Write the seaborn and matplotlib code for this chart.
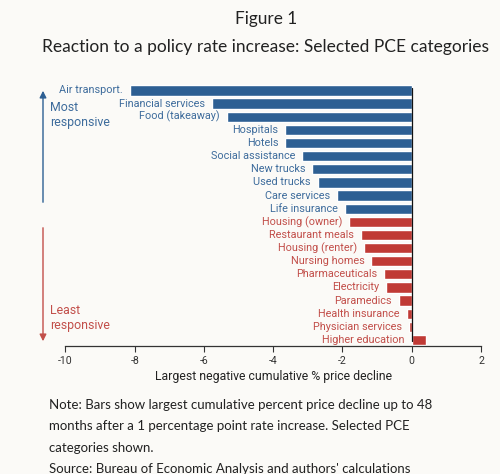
import matplotlib
matplotlib.use("Agg")
import matplotlib.pyplot as plt
import seaborn as sns
import pandas as pd

categories = ["Air transport.", "Financial services", "Food (takeaway)", "Hospitals", "Hotels",
              "Social assistance", "New trucks", "Used trucks", "Care services", "Life insurance",
              "Housing (owner)", "Restaurant meals", "Housing (renter)", "Nursing homes",
              "Pharmaceuticals", "Electricity", "Paramedics", "Health insurance",
              "Physician services", "Higher education"]
values = [-8.15, -5.78, -5.34, -3.65, -3.65, -3.17, -2.88, -2.71, -2.17, -1.93,
          -1.81, -1.48, -1.39, -1.17, -0.81, -0.73, -0.37, -0.15, -0.08, 0.40]
groups = ["Most"] * 10 + ["Least"] * 10
x_ticks = [-10, -8, -6, -4, -2, 0, 2]

BG = "#FBFAF7"
BLUE = "#2D5F93"
RED = "#C03A35"
BLUE_TXT = "#3E6C9C"
RED_TXT = "#C24F4A"

df = pd.DataFrame({"category": categories, "value": values, "group": groups})

sns.set_theme(style="white")
plt.rcParams["font.family"] = ["Roboto", "DejaVu Sans"]

fig = plt.figure(figsize=(5, 4.74), dpi=100, facecolor=BG)
ax = fig.add_axes([0.131, 0.270, 0.831, 0.553])
ax.set_facecolor(BG)

sns.barplot(data=df, y="category", x="value", hue="group", orient="h",
            palette={"Most": BLUE, "Least": RED}, dodge=False, width=0.78,
            legend=False, ax=ax, saturation=1)

ax.set_xlim(-10, 2)
ax.set_ylim(19.46, -0.5)
ax.set_xticks(x_ticks)
ax.set_xticklabels([str(t) for t in x_ticks], fontsize=7.6, color="#333333")
ax.set_yticks([])
ax.set_ylabel("")
ax.set_xlabel("Largest negative cumulative % price decline", fontsize=8.8, color="#222222", labelpad=3)
ax.tick_params(axis="x", length=4, width=0.8, color="#333333", pad=3, bottom=True)
for s in ["left", "right", "top"]:
    ax.spines[s].set_visible(False)
ax.spines["bottom"].set_color("#333333")
ax.spines["bottom"].set_linewidth(0.9)
ax.axvline(0, ymin=0.02, ymax=0.985, color="#111111", lw=0.9)

for i, (cat, v, g) in enumerate(zip(categories, values, groups)):
    xpos = min(v, 0) - 0.2
    ax.text(xpos, i, cat, ha="right", va="center", fontsize=7.8,
            color=BLUE_TXT if g == "Most" else RED_TXT)

# arrows and annotations
fig.patches.append(matplotlib.patches.FancyArrowPatch(
    (43 / 500, 1 - 205 / 474), (43 / 500, 1 - 88 / 474), transform=fig.transFigure,
    arrowstyle="-|>,head_length=4,head_width=2", color=BLUE, lw=1.0, mutation_scale=1))
fig.patches.append(matplotlib.patches.FancyArrowPatch(
    (43 / 500, 1 - 225 / 474), (43 / 500, 1 - 344 / 474), transform=fig.transFigure,
    arrowstyle="-|>,head_length=4,head_width=2", color=RED_TXT, lw=1.0, mutation_scale=1))
fig.text(50 / 500, 1 - 115 / 474, "Most\nresponsive", fontsize=8.9, color=BLUE_TXT,
         ha="left", va="center", linespacing=1.2)
fig.text(50 / 500, 1 - 318 / 474, "Least\nresponsive", fontsize=8.9, color=RED_TXT,
         ha="left", va="center", linespacing=1.2)

fig.text(0.532, 1 - 19 / 474, "Figure 1", fontsize=12.4, ha="center", va="center",
         color="#222222", family=["Lato", "DejaVu Sans"])
fig.text(0.531, 1 - 47 / 474, "Reaction to a policy rate increase: Selected PCE categories",
         fontsize=12.5, ha="center", va="center", color="#222222", family=["Lato", "DejaVu Sans"])

note = ("Note: Bars show largest cumulative percent price decline up to 48\n"
        "months after a 1 percentage point rate increase. Selected PCE\n"
        "categories shown.\n"
        "Source: Bureau of Economic Analysis and authors' calculations")
fig.text(49 / 500, 1 - 399 / 474, note, fontsize=9.5, ha="left", va="top", color="#222222",
         linespacing=1.93, family=["Lato", "DejaVu Sans"])

fig.savefig("out.png", dpi=100, facecolor=BG)
